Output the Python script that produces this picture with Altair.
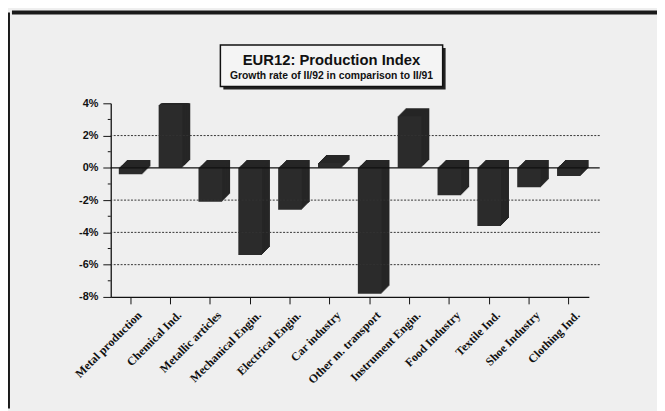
import altair as alt
import pandas as pd

categories = ["Metal production", "Chemical Ind.", "Metallic articles", "Mechanical Engin.",
              "Electrical Engin.", "Car industry", "Other m. transport", "Instrument Engin.",
              "Food Industry", "Textile Ind.", "Shoe Industry", "Clothing Ind."]
values = [-0.4, 3.9, -2.1, -5.4, -2.6, 0.3, -7.8, 3.2, -1.7, -3.6, -1.2, -0.5]
major_ticks = [-8, -6, -4, -2, 0, 2, 4]
minor_ticks = [-7, -5, -3, -1, 1, 3]
grid_values = [2, -2, -4, -6]
title_text = "EUR12: Production Index"
subtitle_text = "Growth rate of II/92 in comparison to II/91"

df = pd.DataFrame({"cat": categories, "val": values})
grid_df = pd.DataFrame({"val": grid_values})
minor_df = pd.DataFrame({"val": minor_ticks})
zero_df = pd.DataFrame({"val": [0]})
one = pd.DataFrame({"a": [0]})

W, H = 495, 196
yscale = alt.Scale(domain=[-8, 4], nice=False, zero=False)
xscale = alt.Scale(domain=categories, range=[0, 484], paddingInner=0, paddingOuter=0)

x_enc = alt.X("cat:N", sort=categories, scale=xscale, title=None,
              axis=alt.Axis(labelAngle=-45, labelAlign="right", labelBaseline="middle",
                            labelFont="Liberation Serif", labelFontWeight="bold", labelFontSize=12,
                            labelColor="#111", tickSize=7, tickColor="#111", domainColor="#111",
                            domainWidth=1.3, labelPadding=9, labelLimit=0, labelOverlap=False,
                            labelOffset=9))

y_axis = alt.Axis(values=major_ticks, labelExpr="datum.value + '%'", tickSize=8, orient="left",
                  labelFont="Liberation Sans", labelFontWeight="bold", labelFontSize=11,
                  labelColor="#111", tickColor="#111", domainColor="#111", domainWidth=1.3,
                  labelPadding=5, grid=False)


def yenc():
    return alt.Y("val:Q", scale=yscale, title=None, axis=y_axis)


bar_color = "#262626"
depth = 8
bar_layers = []
for k in range(depth, -1, -1):
    bar_layers.append(
        alt.Chart(df).mark_bar(size=24, xOffset=k, yOffset=-k, clip=True,
                               color=bar_color if k else "#2b2b2b")
        .encode(x=x_enc, y=yenc())
    )

grid = alt.Chart(grid_df).mark_rule(strokeDash=[2, 1.5], color="#333", strokeWidth=1).encode(
    y=yenc()
)
minor = alt.Chart(minor_df).mark_rule(color="#111", strokeWidth=1).encode(
    x=alt.value(-3), x2=alt.value(0), y=yenc()
)
zero = alt.Chart(zero_df).mark_rule(color="#111", strokeWidth=1.3).encode(
    y=yenc()
)

# title box
shadow = alt.Chart(one).mark_rect(color="#222").encode(
    x=alt.value(114), x2=alt.value(339), y=alt.value(-56), y2=alt.value(-14))
box = alt.Chart(one).mark_rect(fill="#f4f4f4", stroke="#111", strokeWidth=1.5).encode(
    x=alt.value(111), x2=alt.value(336), y=alt.value(-59), y2=alt.value(-17))
t1 = alt.Chart(one).mark_text(text=title_text, font="Liberation Sans", fontWeight="bold",
                              fontSize=15, color="#111", align="center", baseline="middle").encode(
    x=alt.value(223.5), y=alt.value(-44))
t2 = alt.Chart(one).mark_text(text=subtitle_text, font="Liberation Sans", fontWeight="bold",
                              fontSize=10.5, color="#111", align="center", baseline="middle").encode(
    x=alt.value(223.5), y=alt.value(-28))

# outer frame
frame_top = alt.Chart(one).mark_rect(color="#1a1a1a").encode(
    x=alt.value(-100), x2=alt.value(553), y=alt.value(-94), y2=alt.value(-90))
frame_left = alt.Chart(one).mark_rect(color="#1a1a1a").encode(
    x=alt.value(-104), x2=alt.value(-102), y=alt.value(-92), y2=alt.value(309))

chart = alt.layer(
    *bar_layers, grid, minor, zero, shadow, box, t1, t2, frame_top, frame_left
).properties(
    width=W, height=H,
    autosize=alt.AutoSizeParams(type="none"),
    padding={"left": 104, "top": 94, "right": 58, "bottom": 113},
    background="#efefef",
).configure_view(stroke=None)

chart.save("out.html", embed_options={"renderer": "svg", "actions": False})
